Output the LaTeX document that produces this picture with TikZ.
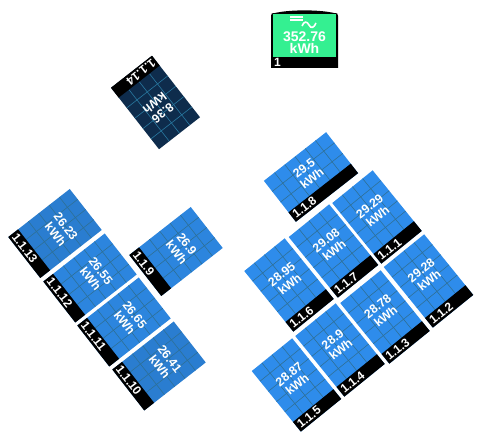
\documentclass[tikz,border=0pt]{standalone}
\usepackage{fontspec}
\setmainfont{Liberation Sans}
\definecolor{panelhigh}{RGB}{46,140,235}
\definecolor{panelmid}{RGB}{44,133,222}
\definecolor{panellow}{RGB}{42,125,208}
\definecolor{paneldark}{RGB}{14,44,76}
\definecolor{gridhigh}{RGB}{46,112,150}
\definecolor{griddark}{RGB}{40,120,160}
\definecolor{metergreen}{RGB}{52,240,145}
\tikzset{
    panelval/.style={text=white, align=center, font=\fontsize{12.3}{13}\selectfont\bfseries, inner sep=0pt},
    panelid/.style={text=white, anchor=west, font=\fontsize{12}{13}\selectfont\bfseries, inner sep=0pt},
    gridline/.style={line width=0.6pt}
}
% centre x, centre y, angle, fill, grid, id, value
\newcommand{\panel}[7]{
    \begin{scope}[shift={(#1,#2)}, rotate=#3]
        \fill[#4] (-26,-39) rectangle (26,39);
        \foreach \gx in {-13,0,13} {\draw[#5, gridline] (\gx,-39) -- (\gx,26.5);}
        \foreach \gy in {-25.9,-12.8,0.3,13.4} {\draw[#5, gridline] (-26,\gy) -- (26,\gy);}
        \fill[black] (-26,26.5) rectangle (26,39);
        \node[panelid, rotate=#3] (id#6) at (-24,32.75) {#6};
        \node[panelval, rotate=#3] (val#6) at (1,-6.5) {#7\\kWh};
    \end{scope}
}
\begin{document}
\begin{tikzpicture}[x=1pt, y=-1pt]
    \useasboundingbox (0,0) rectangle (480,443);

    % meter
    \fill[black] (271,16) .. controls (271,13) and (272,13) .. (275,13) .. controls (290,9.5) and (319,9.5) .. (334,13) .. controls (337,13) and (338,13) .. (338,16) -- (338,68) -- (271,68) -- cycle;
    \fill[metergreen] (273,14) rectangle (336,57);
    \fill[white] (290,16.5) rectangle (303,18);
    \fill[white] (290,19.5) rectangle (303,21);
    \draw[white, line width=1.6pt] (302,26) .. controls (304,21) and (307,21) .. (309,25) .. controls (311,29) and (314,28) .. (316,23);
    \node[panelval, font=\fontsize{14}{11.7}\selectfont\bfseries] (meterval) at (304.5,42.5) {352.76\\kWh};
    \node[panelid] (meterid) at (274,62.5) {1};

    % strings
    \panel{155.5}{102.5}{218}{paneldark}{griddark}{1.1.14}{8.36}
    \begin{scope}[shift={(311,177)}, rotate=38]
        \fill[panelhigh] (-39.5,-26) rectangle (39.5,26);
        \foreach \gx in {-26,-13,0,13,26} {\draw[gridhigh, gridline] (\gx,-26) -- (\gx,14);}
        \foreach \gy in {-12.5,1} {\draw[gridhigh, gridline] (-39.5,\gy) -- (39.5,\gy);}
        \fill[black] (-39.5,14) rectangle (39.5,26);
        \node[panelid, rotate=38] (id118) at (-37.5,20) {1.1.8};
        \node[panelval, rotate=38] (val118) at (0,-5) {29.5\\kWh};
    \end{scope}
    \panel{377}{217}{39}{panelhigh}{gridhigh}{1.1.1}{29.29}
    \panel{428.5}{281}{39}{panelhigh}{gridhigh}{1.1.2}{29.28}
    \panel{385}{317}{39}{panelhigh}{gridhigh}{1.1.3}{28.78}
    \panel{340}{350}{39}{panelhigh}{gridhigh}{1.1.4}{28.9}
    \panel{296.5}{385}{39}{panelhigh}{gridhigh}{1.1.5}{28.87}
    \panel{289}{285}{39}{panelhigh}{gridhigh}{1.1.6}{28.95}
    \panel{333.5}{251}{39}{panelhigh}{gridhigh}{1.1.7}{29.08}
    \panel{176}{251.5}{-52}{panelmid}{gridhigh}{1.1.9}{26.9}
    \panel{159}{366}{-52}{panellow}{gridhigh}{1.1.10}{26.41}
    \panel{124}{322}{-52}{panelmid}{gridhigh}{1.1.11}{26.65}
    \panel{90}{278}{-52}{panelmid}{gridhigh}{1.1.12}{26.55}
    \panel{55}{233.5}{-52}{panellow}{gridhigh}{1.1.13}{26.23}
\end{tikzpicture}
\end{document}
